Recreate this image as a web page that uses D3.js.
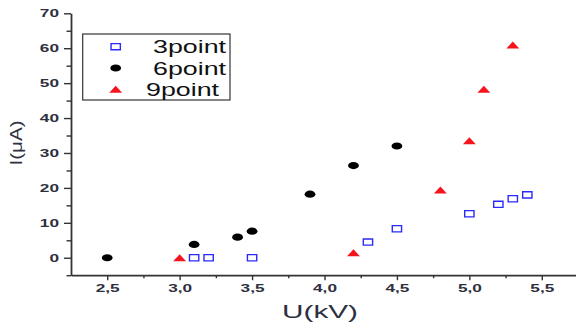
<!DOCTYPE html>
<html>
<head>
<meta charset="utf-8">
<script src="https://cdn.jsdelivr.net/npm/d3@7"></script>
<style>
  html, body { margin: 0; padding: 0; background: #fff; }
  svg { display: block; font-family: "Liberation Sans", Arial, sans-serif; }
</style>
</head>
<body>
<div id="graph"></div>
<script>
'use strict';

// data: U in kV, I in uA
const series = ["3point", "6point", "9point"];
const u3 = [3.1, 3.2, 3.5, 4.3, 4.5, 5.0, 5.2, 5.3, 5.4];
const i3 = [0, 0, 0, 4.5, 8.3, 12.6, 15.3, 16.9, 18.0];
const u6 = [2.5, 3.1, 3.4, 3.5, 3.9, 4.2, 4.5];
const i6 = [0, 3.8, 5.9, 7.6, 18.2, 26.4, 32.0];
const u9 = [3.0, 4.2, 4.8, 5.0, 5.1, 5.3];
const i9 = [0, 1.4, 19.4, 33.5, 48.2, 60.9];

const xTicks = [2.5, 3.0, 3.5, 4.0, 4.5, 5.0, 5.5];
const xMinorTicks = [2.75, 3.25, 3.75, 4.25, 4.75, 5.25, 5.75];
const yTicks = [0, 10, 20, 30, 40, 50, 60, 70];
const yMinorTicks = [-5, 5, 15, 25, 35, 45, 55, 65];

const SX = 1.5; // the original picture is stretched sideways
const axisColor = "#333";
const textColor = "#2e3040";

let svgContainer = d3.select('#graph')
  .append('svg')
  .attr('width', 576)
  .attr('height', 325);

let xScale = d3.scaleLinear().domain([2.25, 5.75]).range([71, 578]);
let yScale = d3.scaleLinear().domain([-5, 70]).range([275.2, 13.3]);

drawAxes();
plotData();
drawLegend();
makeLabels();

function commaFormat(v) {
  return d3.format(".1f")(v).replace(".", ",");
}

function drawAxes() {
  // minor ticks first, no labels
  svgContainer.append('g')
    .attr('transform', 'translate(0,' + yScale(-5) + ')')
    .call(d3.axisBottom(xScale).tickValues(xMinorTicks).tickSize(3).tickFormat(""))
    .call(g => g.select('.domain').remove());
  svgContainer.append('g')
    .attr('transform', 'translate(' + xScale(2.25) + ',0)')
    .call(d3.axisLeft(yScale).tickValues(yMinorTicks).tickSize(4.5).tickFormat(""))
    .call(g => g.select('.domain').remove());

  let xAxis = svgContainer.append('g')
    .attr('transform', 'translate(0,' + yScale(-5) + ')')
    .call(d3.axisBottom(xScale).tickValues(xTicks).tickSize(5).tickSizeOuter(0).tickFormat(commaFormat));
  xAxis.selectAll('text')
    .attr('y', 16.5)
    .attr('dy', 0)
    .attr('transform', 'scale(' + SX + ',1)');

  let yAxis = svgContainer.append('g')
    .attr('transform', 'translate(' + xScale(2.25) + ',0)')
    .call(d3.axisLeft(yScale).tickValues(yTicks).tickSize(7).tickSizeOuter(0).tickFormat(d3.format("d")));
  yAxis.selectAll('text')
    .attr('x', -12 / SX)
    .attr('transform', 'scale(' + SX + ',1)');

  svgContainer.selectAll('.tick text')
    .style('font-size', '11.5px')
    .style('font-weight', 'bold')
    .attr('fill', textColor);
  svgContainer.selectAll('.tick line').attr('stroke', axisColor).attr('stroke-width', 1.4);
  svgContainer.selectAll('.domain').attr('stroke', axisColor).attr('stroke-width', 1.8);
}

// marker shapes, drawn in a stretched local frame
function addMarker(g, kind) {
  if (kind === 0) {
    g.append('rect')
      .attr('x', -3.1).attr('y', -3.1)
      .attr('width', 6.2).attr('height', 6.2)
      .attr('fill', '#fff')
      .attr('stroke', '#2a2aff')
      .attr('stroke-width', 1.4)
      .attr('vector-effect', 'non-scaling-stroke');
  } else if (kind === 1) {
    g.append('circle')
      .attr('r', 3.6)
      .attr('fill', '#000');
  } else {
    g.append('path')
      .attr('d', 'M0,-3.6L4.3,3.4L-4.3,3.4Z')
      .attr('fill', '#f5141e');
  }
}

function plotData() {
  let sets = [
    d3.zip(u3, i3),
    d3.zip(u6, i6),
    d3.zip(u9, i9)
  ];
  sets.forEach((pts, k) => {
    svgContainer.append('g').selectAll('g')
      .data(pts)
      .enter()
      .append('g')
        .attr('transform', d => 'translate(' + xScale(d[0]) + ',' + yScale(d[1]) + ') scale(' + SX + ',1)')
        .each(function() { addMarker(d3.select(this), k); });
  });
}

function drawLegend() {
  svgContainer.append('rect')
    .attr('x', 82.7).attr('y', 34)
    .attr('width', 147.3).attr('height', 66)
    .attr('fill', '#fff')
    .attr('stroke', '#333')
    .attr('stroke-width', 1.2);

  let rowY = [46.7, 68, 89.3];
  let textX = [153, 153, 146];
  series.forEach((name, k) => {
    let g = svgContainer.append('g')
      .attr('transform', 'translate(115.7,' + rowY[k] + ') scale(' + SX + ',1)');
    addMarker(g, k);
    svgContainer.append('text')
      .attr('x', textX[k])
      .attr('y', rowY[k] + 6.5)
      .attr('textLength', 73)
      .attr('lengthAdjust', 'spacingAndGlyphs')
      .style('font-size', '18px')
      .attr('fill', '#111')
      .text(name);
  });
}

function makeLabels() {
  svgContainer.append('text')
    .attr('x', 282)
    .attr('y', 317.5)
    .attr('textLength', 76)
    .attr('lengthAdjust', 'spacingAndGlyphs')
    .style('font-size', '18.5px')
    .attr('fill', textColor)
    .text('U(kV)');

  svgContainer.append('text')
    .attr('transform', 'translate(21.5,143)rotate(-90)')
    .attr('text-anchor', 'middle')
    .attr('textLength', 45)
    .attr('lengthAdjust', 'spacingAndGlyphs')
    .style('font-size', '16px')
    .attr('fill', textColor)
    .text('I(μA)');
}
</script>
</body>
</html>
